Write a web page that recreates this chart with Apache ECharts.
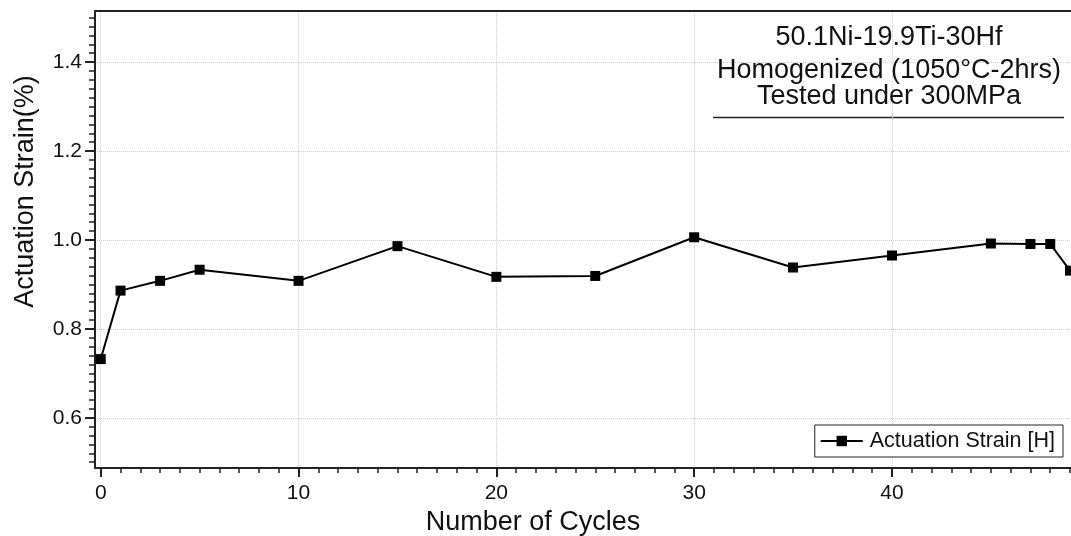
<!DOCTYPE html>
<html>
<head>
<meta charset="utf-8">
<script src="https://cdn.jsdelivr.net/npm/echarts@6/dist/echarts.min.js"></script>
<style>
html,body{margin:0;padding:0;background:#fff;}
#chart{width:1071px;height:536px;}
</style>
</head>
<body>
<div id="chart"></div>
<script>
const cycles = [0, 1, 3, 5, 10, 15, 20, 25, 30, 35, 40, 45, 47, 48, 49];
const strainValues = [0.732, 0.886, 0.908, 0.933, 0.908, 0.986, 0.917, 0.919, 1.006, 0.938, 0.965, 0.992, 0.991, 0.991, 0.931];
const yMajorTicks = [0.6, 0.8, 1.0, 1.2, 1.4];
const xMajorTicks = [0, 10, 20, 30, 40];
const annotationLines = ['50.1Ni-19.9Ti-30Hf', 'Homogenized (1050°C-2hrs)', 'Tested under 300MPa'];
const seriesName = 'Actuation Strain [H]';
const xTitle = 'Number of Cycles';
const yTitle = 'Actuation Strain(%)';

const yMinorTicks = [];
for (let i = 0; i <= 50; i++) yMinorTicks.push(+(0.5 + i * 0.02).toFixed(2));
const xMinorTicks = [];
for (let i = 0; i <= 49; i++) xMinorTicks.push(i);

const X_MIN = -0.29, X_MAX = 49.05, Y_MIN = 0.487, Y_MAX = 1.515;
const FONT = "'Liberation Sans', Arial, sans-serif";
const INK = '#222';
const gridLine = { show: true, lineStyle: { type: 'dotted', color: '#cfcfcf', width: 1 } };

const chart = echarts.init(document.getElementById('chart'));
chart.setOption({
  animation: false,
  backgroundColor: '#fff',
  textStyle: { fontFamily: FONT },
  grid: { left: 95, top: 11, right: 0, bottom: 68, containLabel: false, outerBoundsMode: 'none' },
  title: annotationLines.map((t, i) => ({
    text: t,
    left: 889,
    top: [24, 57, 83][i],
    textAlign: 'center',
    padding: 0,
    textStyle: { fontSize: 27, fontWeight: 'normal', color: '#111', fontFamily: FONT }
  })),
  graphic: [{
    type: 'line',
    shape: { x1: 713, y1: 117.5, x2: 1064, y2: 117.5 },
    style: { stroke: '#222', lineWidth: 1.5 },
    silent: true
  }],
  legend: {
    data: [seriesName],
    right: 8,
    top: 425,
    orient: 'vertical',
    padding: [5, 8, 5, 5],
    itemWidth: 42,
    itemHeight: 13,
    itemGap: 0,
    borderColor: '#222',
    borderWidth: 1,
    backgroundColor: '#fff',
    textStyle: { fontSize: 21.5, color: '#111', fontFamily: FONT, padding: [0, 0, 0, 2] }
  },
  xAxis: [{
    type: 'value', min: X_MIN, max: X_MAX, position: 'bottom',
    name: xTitle, nameLocation: 'middle', nameGap: 37,
    nameTextStyle: { fontSize: 27, color: '#111', fontFamily: FONT, padding: [0, 100, 0, 0] },
    axisLine: { show: true, onZero: false, lineStyle: { color: INK, width: 2 } },
    axisTick: { show: true, inside: false, length: 9, customValues: xMajorTicks, lineStyle: { color: INK, width: 2 } },
    axisLabel: { show: true, customValues: xMajorTicks, margin: 15, fontSize: 21, color: '#111', fontFamily: FONT },
    splitLine: gridLine
  }, {
    type: 'value', min: X_MIN, max: X_MAX, position: 'bottom',
    axisLine: { show: false, onZero: false },
    axisTick: { show: true, inside: false, length: 5, customValues: xMinorTicks, lineStyle: { color: INK, width: 1.5 } },
    axisLabel: { show: false },
    splitLine: { show: false }
  }, {
    type: 'value', min: X_MIN, max: X_MAX, position: 'top',
    axisLine: { show: true, onZero: false, lineStyle: { color: INK, width: 2 } },
    axisTick: { show: false }, axisLabel: { show: false }, splitLine: { show: false }
  }],
  yAxis: [{
    type: 'value', min: Y_MIN, max: Y_MAX, position: 'left',
    name: yTitle, nameLocation: 'middle', nameGap: 56, nameRotate: 90,
    nameTextStyle: { fontSize: 27, color: '#111', fontFamily: FONT, padding: [0, 0, 0, 96] },
    axisLine: { show: true, onZero: false, lineStyle: { color: INK, width: 2 } },
    axisTick: { show: true, inside: false, length: 10, customValues: yMajorTicks, lineStyle: { color: INK, width: 2 } },
    axisLabel: { show: true, customValues: yMajorTicks, margin: 13, fontSize: 21, color: '#111', fontFamily: FONT,
      formatter: v => Number(v).toFixed(1) },
    splitLine: gridLine
  }, {
    type: 'value', min: Y_MIN, max: Y_MAX, position: 'left',
    axisLine: { show: false, onZero: false },
    axisTick: { show: true, inside: false, length: 6, customValues: yMinorTicks, lineStyle: { color: INK, width: 1.5 } },
    axisLabel: { show: false },
    splitLine: { show: false }
  }],
  series: [{
    name: seriesName,
    type: 'line',
    xAxisIndex: 0,
    yAxisIndex: 0,
    data: cycles.map((c, i) => [c, strainValues[i]]),
    symbol: 'rect',
    symbolSize: 10,
    showAllSymbol: true,
    clip: true,
    itemStyle: { color: '#000' },
    lineStyle: { color: '#000', width: 2 },
    z: 5
  }]
});
</script>
</body>
</html>
